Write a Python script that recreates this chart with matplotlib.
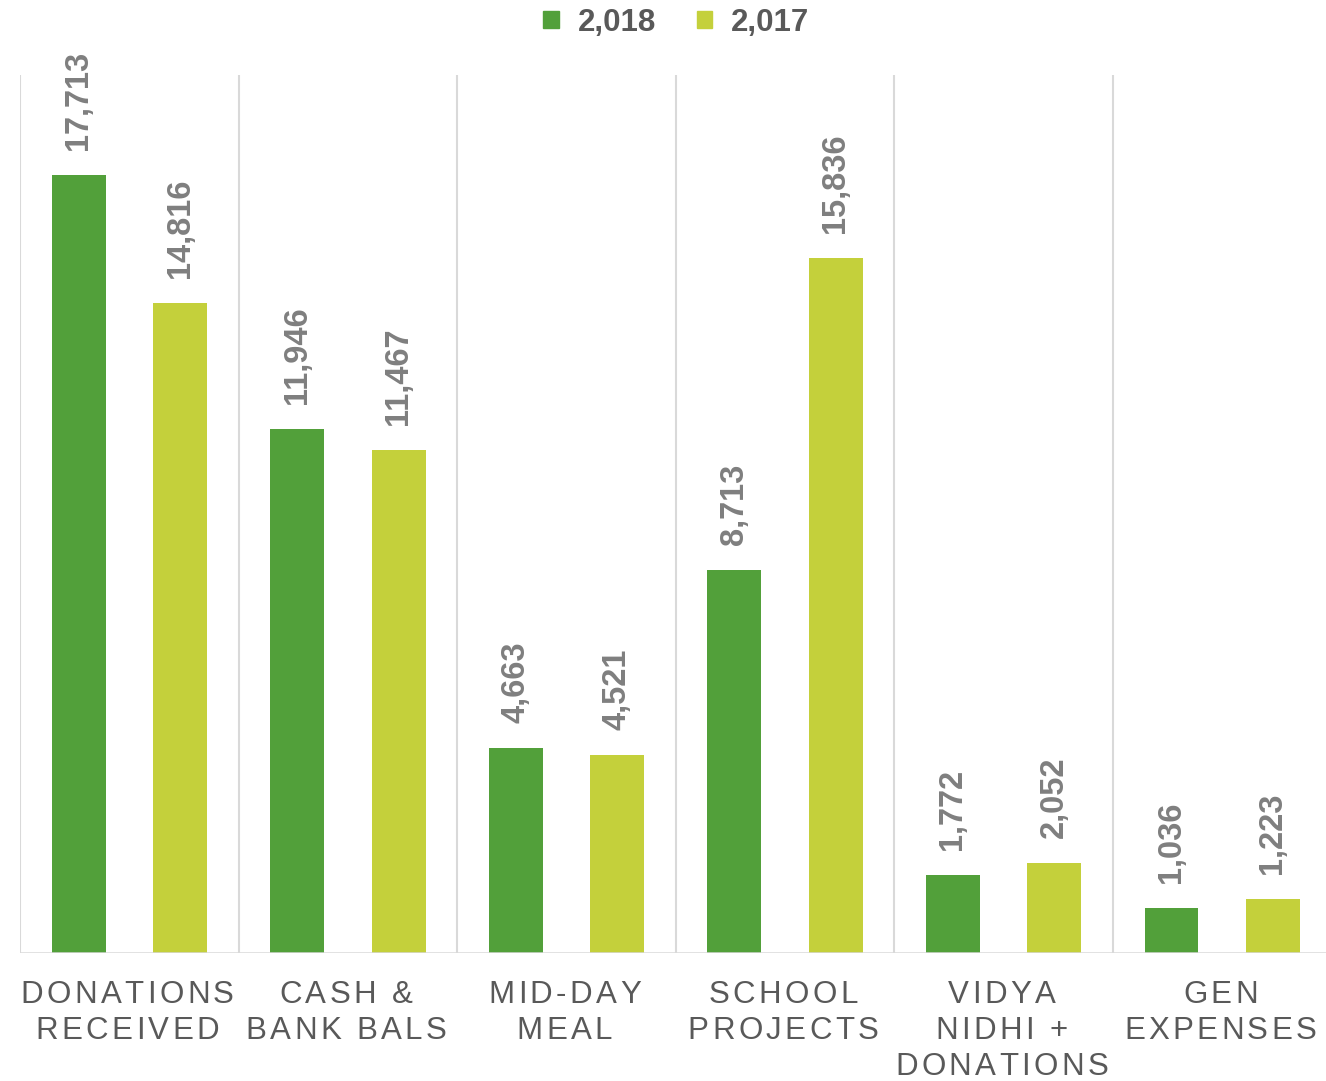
import matplotlib
matplotlib.use("Agg")
import matplotlib.pyplot as plt
import numpy as np
from matplotlib import font_manager
from matplotlib.ft2font import FT2Font
from matplotlib.patches import Patch

categories = ["DONATIONS\nRECEIVED", "CASH &\nBANK BALS", "MID-DAY\nMEAL",
              "SCHOOL\nPROJECTS", "VIDYA\nNIDHI +\nDONATIONS", "GEN\nEXPENSES"]
series_names = ["2,018", "2,017"]
vals_2018 = [17713, 11946, 4663, 8713, 1772, 1036]
vals_2017 = [14816, 11467, 4521, 15836, 2052, 1223]

DPI = 100
FONT = "Liberation Sans"
DARK = "#52A03A"
LIGHT = "#C4D03B"
GRID = "#D9D9D9"

plt.rcParams['font.family'] = [FONT, 'DejaVu Sans']

fig = plt.figure(figsize=(13.26, 10.81), dpi=DPI)
W, H = 1326, 1081
ax = fig.add_axes([20 / W, 128 / H, 1311.5 / W, 878 / H])

x = np.arange(len(categories))
bw = 0.247
off = 0.232
ax.bar(x - off, vals_2018, bw, color=DARK, zorder=3)
ax.bar(x + off, vals_2017, bw, color=LIGHT, zorder=3)

ax.set_xlim(-0.5, len(categories) - 0.5)
ax.set_ylim(0, 20000)
for s in ax.spines.values():
    s.set_visible(False)
ax.set_xticks([])
ax.set_yticks([])

for b in np.arange(-0.5, len(categories), 1.0):
    ax.axvline(b, color=GRID, lw=1.5, zorder=1)
ax.axhline(0, color=GRID, lw=1.8, zorder=4)

# value labels
for xs, vals in ((x - off, vals_2018), (x + off, vals_2017)):
    for xi, v in zip(xs, vals):
        ax.annotate(f"{v:,}", xy=(xi, v), xytext=(0, 18), textcoords='offset points',
                    rotation=90, ha='center', va='bottom', fontsize=23.5,
                    fontweight='bold', color='#7F7F7F')

# category labels with letter spacing
cat_size = 22.5
path = font_manager.findfont(font_manager.FontProperties(family=FONT))
ft = FT2Font(path)
ft.set_size(cat_size, DPI)


def advance(ch):
    return ft.load_char(ord(ch)).linearHoriAdvance / 65536


spacing = 3.4
for i, cat in enumerate(categories):
    for li, line in enumerate(cat.split("\n")):
        widths = [advance(c) for c in line]
        total = sum(widths) + spacing * (len(line) - 1)
        px = -total / 2 - 2
        py = -50 - 36 * li
        for c, w in zip(line, widths):
            if c != " ":
                ax.annotate(c, xy=(i, 0), xycoords=('data', 'axes fraction'),
                            xytext=(px * 72 / DPI, py * 72 / DPI),
                            textcoords='offset points', ha='left', va='baseline',
                            fontsize=cat_size, color='#595959', annotation_clip=False)
            px += w + spacing

handles = [Patch(color=DARK), Patch(color=LIGHT)]
leg = fig.legend(handles, series_names, loc='upper center', bbox_to_anchor=(0.51, 1.019),
                 ncol=2, frameon=False, handlelength=0.5, handleheight=0.5,
                 handletextpad=0.6, columnspacing=1.3,
                 prop={'family': FONT, 'size': 22.5, 'weight': 'bold'})
for t in leg.get_texts():
    t.set_color('#595959')

fig.savefig("out.png", dpi=DPI)
